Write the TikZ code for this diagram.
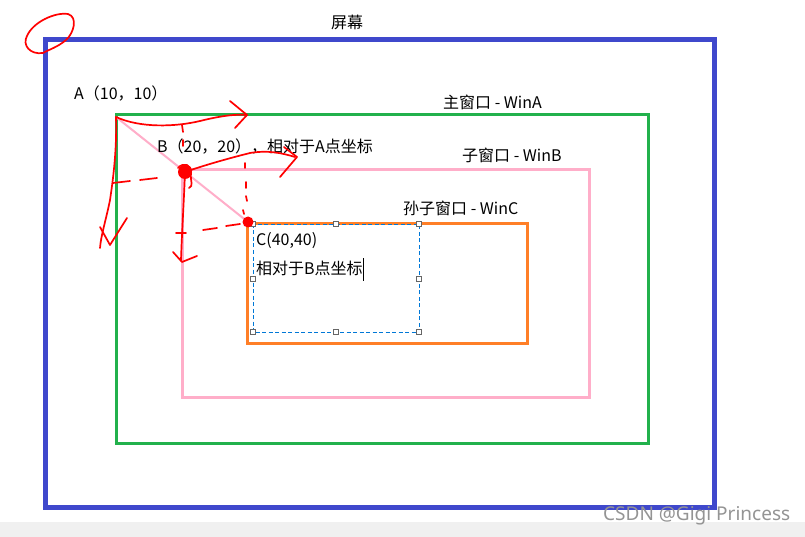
\documentclass[tikz,border=0pt]{standalone}
\usepackage{fontspec}
\setmainfont{Noto Sans CJK SC}
\newfontfamily\wmfont{Noto Sans}
\begin{document}
\begin{tikzpicture}[x=1pt,y=-1pt,
  lbl/.style={inner sep=0pt,anchor=west,font=\fontsize{16}{18}\selectfont},
  pen/.style={draw=red,line width=1.7pt,line cap=round,line join=round},
  handle/.style={draw=black!60,fill=white,line width=0.8pt,minimum size=5pt,inner sep=0pt,shape=rectangle}]
\definecolor{scrblue}{HTML}{3F48CC}
\definecolor{wgreen}{HTML}{22B14C}
\definecolor{wpink}{HTML}{FFAEC9}
\definecolor{worange}{HTML}{FF7F27}
\definecolor{selblue}{HTML}{0078D7}
\useasboundingbox (0,0) rectangle (805,537);
\fill[white] (0,0) rectangle (805,537);
\fill[black!6] (0,522) rectangle (805,537);
% windows
\draw[scrblue,line width=5pt] (45,40) rectangle (714,507);
\draw[wgreen,line width=3pt] (116,115) rectangle (648,443);
\draw[wpink,line width=3pt] (182,170) rectangle (589,397);
\draw[worange,line width=3pt] (247,224) rectangle (527,343);
% selection box
\draw[selblue,line width=0.9pt,dash pattern=on 4pt off 2.5pt] (253,224) rectangle (419,332);
\foreach \n/\p in {h1/{(253,224)},h2/{(336,224)},h3/{(419,224)},h4/{(253,279)},h5/{(419,279)},h6/{(253,332)},h7/{(336,332)},h8/{(419,332)}}
  \node[handle] (\n) at \p {};
% key points
\coordinate (A) at (116,117);
\coordinate (B) at (185,172);
\coordinate (C) at (248,222);
\draw[wpink,line width=2pt] (A) -- (C);
% labels
\node[inner sep=0pt,font=\fontsize{16}{18}\selectfont] (tscr) at (347,22) {屏幕};
\node[lbl] (tA) at (74,94) {A（10，10）};
\node[lbl] (tWA) at (443,102) {主窗口 - WinA};
\node[lbl] (tB) at (157,147) {B（20，20），相对于A点坐标};
\node[lbl] (tWB) at (462,155) {子窗口 - WinB};
\node[lbl] (tWC) at (403,208) {孙子窗口 - WinC};
\node[lbl] (tC) at (256,241) {C(40,40)};
\node[lbl] (tCr) at (256,268) {相对于B点坐标};
\coordinate (cur1) at (363,258);
\coordinate (cur2) at (363,281);
\draw[black,line width=0.8pt] (cur1) -- (cur2);
\node[inner sep=0pt,anchor=west,text=black!42,font=\wmfont\fontsize{19}{21}\selectfont] (wm) at (603,516) {CSDN @Gigi Princess};
% red hand marks
\draw[pen] (43,53) .. controls (30,55) and (22,45) .. (27,36) .. controls (33,22) and (55,12) .. (68,14) .. controls (78,17) and (74,33) .. (66,40) .. controls (58,47) and (48,50) .. (43,53);
% from A: right arrow
\draw[pen] (A) .. controls (140,128) and (175,127) .. (200,121) .. controls (220,116) and (235,114) .. (247,115);
\draw[pen] (230,101) -- (247,115) -- (235,128);
% from A: down arrow
\draw[pen] (A) .. controls (117,150) and (113,180) .. (110,200) .. controls (106,220) and (101,235) .. (100,248);
\draw[pen] (100,227) -- (110,245) -- (127,218);
% dashes near A
\draw[pen] (113,183) -- (130,181);
\draw[pen] (140,180) -- (157,178);
\draw[pen] (182,125) -- (183,132);
\draw[pen] (183,140) -- (183,146);
% B blob
\fill[red] (B) circle (7pt);
\draw[pen] (178,168) .. controls (183,162) and (192,164) .. (191,173) .. controls (190,181) and (194,186) .. (189,188);
% from B: right arrow
\draw[pen] (B) .. controls (205,165) and (230,158) .. (250,153) .. controls (268,150) and (282,153) .. (295,157);
\draw[pen] (284,147) -- (297,157) -- (280,177);
% from B: down arrow
\draw[pen] (B) .. controls (184,200) and (182,230) .. (181,260);
\draw[pen] (173,252) -- (182,262) -- (197,256);
% dashes near C
\draw[pen] (176,233) -- (186,233);
\draw[pen] (203,230) -- (217,228);
\draw[pen] (226,226) -- (240,224);
\draw[pen] (245,163) -- (245,168);
\draw[pen] (246,182) -- (246,188);
\draw[pen] (246,196) -- (247,201);
\draw[pen] (243,210) -- (244,214);
% C blob
\fill[red] (C) circle (5.5pt);
\end{tikzpicture}
\end{document}
